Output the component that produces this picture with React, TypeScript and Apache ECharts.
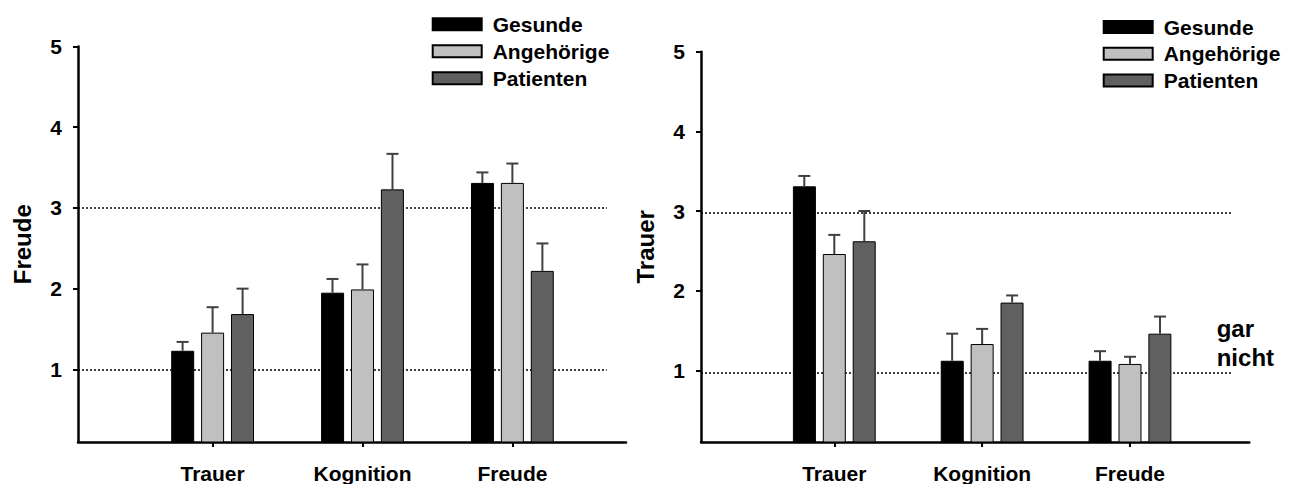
import React, { useEffect, useRef } from "react";
import * as echarts from "echarts";

const categories = ["Trauer", "Kognition", "Freude"];
const groups = ["Gesunde", "Angehörige", "Patienten"];
const yTicks = [1, 2, 3, 4, 5];

// Left chart: Freude ratings (mean, upper error value)
const freudeGesunde = [1.23, 1.95, 3.31];
const freudeGesundeErr = [1.34, 2.12, 3.44];
const freudeAngehoerige = [1.455, 1.99, 3.31];
const freudeAngehoerigeErr = [1.77, 2.3, 3.55];
const freudePatienten = [1.685, 3.23, 2.22];
const freudePatientenErr = [2.0, 3.67, 2.56];
const freudeRefLines = [1, 3];

// Right chart: Trauer ratings
const trauerGesunde = [3.31, 1.12, 1.12];
const trauerGesundeErr = [3.44, 1.46, 1.24];
const trauerAngehoerige = [2.46, 1.33, 1.08];
const trauerAngehoerigeErr = [2.7, 1.52, 1.17];
const trauerPatienten = [2.62, 1.85, 1.46];
const trauerPatientenErr = [3.0, 1.94, 1.675];
const trauerRefLines = [0.97, 2.98];

const FONT = "'Liberation Sans', Arial, Helvetica, sans-serif";
const COLORS = ["#000000", "#c0c0c0", "#606060"];
const BAR_W = 23;
const BAR_PITCH = 30;

export default function App() {
  const ref = useRef<HTMLDivElement>(null);

  useEffect(() => {
    if (!ref.current) return;
    const chart = echarts.init(ref.current, null, { renderer: "svg" });

    const charts = [
      {
        name: "Freude",
        means: [freudeGesunde, freudeAngehoerige, freudePatienten],
        errs: [freudeGesundeErr, freudeAngehoerigeErr, freudePatientenErr],
        refs: freudeRefLines,
        grid: { left: 78, top: 46.5, width: 548, height: 398.5 },
        xMin: -0.898,
        xMax: 2.758,
        refEnd: 2.63,
        legend: { left: 431.7, top: 13.7, itemGap: 6 },
      },
      {
        name: "Trauer",
        means: [trauerGesunde, trauerAngehoerige, trauerPatienten],
        errs: [trauerGesundeErr, trauerAngehoerigeErr, trauerPatientenErr],
        refs: trauerRefLines,
        grid: { left: 701, top: 51.7, width: 548.3, height: 394 },
        xMin: -0.9016,
        xMax: 2.807,
        refEnd: 2.695,
        legend: { left: 1102.7, top: 16.5, itemGap: 5.7 },
      },
    ];

    const grid: any[] = [];
    const xAxis: any[] = [];
    const yAxis: any[] = [];
    const series: any[] = [];
    const legend: any[] = [];

    charts.forEach((c, ci) => {
      grid.push({ ...c.grid, containLabel: false });
      xAxis.push({
        type: "value",
        gridIndex: ci,
        min: c.xMin,
        max: c.xMax,
        axisLine: { show: true, onZero: false, lineStyle: { color: "#000", width: 2.5 } },
        axisTick: { show: true, customValues: [0, 1, 2], length: 5, lineStyle: { color: "#000", width: 2 } },
        axisLabel: {
          show: true,
          customValues: [0, 1, 2],
          formatter: (v: number) => categories[Math.round(v)] ?? "",
          margin: 21,
          color: "#000",
          fontSize: 21,
          lineHeight: 21,
          fontWeight: "bold",
          fontFamily: FONT,
        },
        splitLine: { show: false },
      });
      yAxis.push({
        type: "value",
        gridIndex: ci,
        min: 0.1,
        max: 5,
        name: c.name,
        nameLocation: "middle",
        nameGap: 44,
        nameTextStyle: { color: "#000", fontSize: 24, fontWeight: "bold", fontFamily: FONT },
        axisLine: { show: true, onZero: false, lineStyle: { color: "#000", width: 2.5 } },
        axisTick: { show: true, customValues: yTicks, length: 5, lineStyle: { color: "#000", width: 2 } },
        axisLabel: {
          show: true,
          customValues: yTicks,
          margin: 16,
          color: "#000",
          fontSize: 21,
          fontWeight: "bold",
          fontFamily: FONT,
        },
        splitLine: { show: false },
      });

      // Dotted reference lines (drawn behind bars)
      series.push({
        type: "line",
        xAxisIndex: ci,
        yAxisIndex: ci,
        data: [],
        silent: true,
        z: 1,
        markLine: {
          silent: true,
          z: 1,
          symbol: ["none", "none"],
          label: { show: false },
          lineStyle: { color: "#000", width: 1.5, type: [2, 2] },
          data: c.refs.map((r) => [{ coord: [c.xMin, r] }, { coord: [c.refEnd, r] }]),
        },
      });

      groups.forEach((g, gi) => {
        series.push({
          type: "bar",
          name: g,
          xAxisIndex: ci,
          yAxisIndex: ci,
          barWidth: BAR_W,
          barGap: "30%",
          z: 2,
          itemStyle: { color: COLORS[gi], borderColor: "#000", borderWidth: 1 },
          data: c.means[gi].map((v, i) => [i, v]),
        });
      });

      const errData: number[][] = [];
      groups.forEach((_, gi) => {
        c.means[gi].forEach((v, i) => errData.push([i, v, c.errs[gi][i], gi]));
      });
      series.push({
        type: "custom",
        xAxisIndex: ci,
        yAxisIndex: ci,
        z: 3,
        silent: true,
        encode: { x: 0, y: [1, 2] },
        data: errData,
        renderItem: (params: any, api: any) => {
          const x = api.value(0);
          const m = api.value(1);
          const e = api.value(2);
          const s = api.value(3);
          const p0 = api.coord([x, m]);
          const p1 = api.coord([x, e]);
          const px = p0[0] + (s - 1) * BAR_PITCH;
          const style = { stroke: "#404040", lineWidth: 2 };
          return {
            type: "group",
            children: [
              { type: "line", shape: { x1: px, y1: p0[1], x2: px, y2: p1[1] }, style },
              { type: "line", shape: { x1: px - 6, y1: p1[1], x2: px + 6, y2: p1[1] }, style },
            ],
          };
        },
      });

      legend.push({
        orient: "vertical",
        left: c.legend.left,
        top: c.legend.top,
        padding: 0,
        itemGap: c.legend.itemGap,
        itemWidth: 49,
        itemHeight: 12,
        icon: "rect",
        selectedMode: false,
        data: groups,
        textStyle: {
          color: "#000",
          fontSize: 21,
          lineHeight: 21,
          fontWeight: "bold",
          fontFamily: FONT,
          padding: [0, 0, 0, 6],
        },
      });
    });

    chart.setOption({
      animation: false,
      backgroundColor: "#ffffff",
      grid,
      xAxis,
      yAxis,
      legend,
      series,
      graphic: [
        {
          type: "text",
          left: 1216.7,
          top: 314,
          style: {
            text: "gar\nnicht",
            fill: "#000",
            font: `bold 24px ${FONT}`,
            lineHeight: 29,
          },
        },
      ],
    });

    return () => chart.dispose();
  }, []);

  return (
    <div
      ref={ref}
      style={{ position: "fixed", left: 0, top: 0, width: 1295, height: 484, background: "#fff" }}
    />
  );
}
